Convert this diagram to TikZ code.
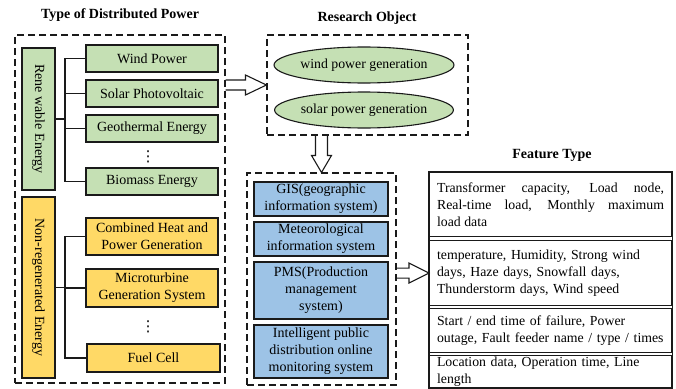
\documentclass[tikz,border=0pt]{standalone}
\usepackage{fontspec}
\usepackage{graphicx}
\setmainfont{Liberation Serif}
\newfontfamily\dvsans{DejaVu Sans}
\usetikzlibrary{shapes.geometric,calc}
\definecolor{gfill}{HTML}{C5E0B4}
\definecolor{yfill}{HTML}{FFD966}
\definecolor{bfill}{HTML}{9DC3E6}
\definecolor{lc}{HTML}{1A1A1A}
\begin{document}
\begin{tikzpicture}[x=1pt,y=-1pt,
  every node/.style={font=\fontsize{14}{17}\selectfont, inner sep=0pt},
  ttl/.style={font=\fontsize{14}{17}\selectfont\bfseries},
  vdotsnode/.style={font=\fontsize{15}{17}\dvsans},
  dbox/.style={draw=lc, line width=1.1pt, dash pattern=on 7pt off 4pt},
  solidbox/.style={draw=lc, line width=1.1pt, align=center},
  gbox/.style={solidbox, fill=gfill, minimum width=132pt, minimum height=27pt},
  ybox/.style={solidbox, fill=yfill, minimum width=132pt},
  vbox/.style={solidbox, minimum width=33pt},
  bbox/.style={solidbox, fill=bfill, minimum width=134pt},
  ell/.style={ellipse, draw=lc, line width=1.1pt, fill=gfill, minimum width=178pt, minimum height=36pt, font=\fontsize{13.8}{16}\selectfont},
  fbox/.style={draw=lc, line width=1.1pt, minimum width=242pt, text width=227pt, inner xsep=7.5pt, anchor=north west, font=\fontsize{13.8}{16.8}\selectfont},
  conn/.style={draw=lc, line width=1.1pt},
  barrow/.style={draw=lc, line width=1.1pt, line join=miter}
]
\useasboundingbox (0,0) rectangle (676,388);

% ---------- Type of Distributed Power ----------
\node[ttl] (t1) at (120,15) {Type of Distributed Power};
\node[dbox, minimum width=210pt, minimum height=348pt] (dist) at (120,209) {};

\node[vbox, fill=gfill, minimum height=142pt] (ren) at (38.5,119) {\rotatebox{-90}{Rene wable Energy}};
\node[gbox] (wind) at (152,58.5) {Wind Power};
\node[gbox] (solar) at (152,93.5) {Solar Photovoltaic};
\node[gbox] (geo) at (152,128.5) {Geothermal Energy};
\node[vdotsnode] (dots1) at (148,157) {⋮};
\node[gbox] (bio) at (152,181.5) {Biomass Energy};

\coordinate (b1) at (65,0);
\draw[conn] (ren.east) -- (ren.east -| b1);
\draw[conn] (wind.west) -- (wind.west -| b1) |- (bio.west);
\draw[conn] (solar.west) -- (solar.west -| b1);
\draw[conn] (geo.west) -- (geo.west -| b1);

\node[vbox, fill=yfill, minimum height=181pt] (nonren) at (38.5,287.5) {\rotatebox{-90}{Non-regenerated Energy}};
\node[ybox, minimum height=37pt] (chp) at (152,236.5) {Combined Heat and\\Power Generation};
\node[ybox, minimum height=38pt] (micro) at (152,288) {Microturbine\\Generation System};
\node[vdotsnode] (dots2) at (148,327) {⋮};
\node[ybox, minimum height=28pt, minimum width=133pt] (fuel) at (153.5,358) {Fuel Cell};

\coordinate (b2) at (65,0);
\draw[conn] (nonren.east) -- (nonren.east -| b2);
\draw[conn] (chp.west) -- (chp.west -| b2) |- (fuel.west);
\draw[conn] (micro.west) -- (micro.west -| b2);

% ---------- Research Object ----------
\node[ttl] (t2) at (367,18) {Research Object};
\node[dbox, minimum width=201pt, minimum height=100pt] (res) at (367.5,85) {};
\node[ell] (ewind) at (364,65) {wind power generation};
\node[ell] (esolar) at (364,110) {solar power generation};

% ---------- Data sources ----------
\node[dbox, minimum width=149pt, minimum height=212pt] (mid) at (321.5,279) {};
\node[bbox, minimum height=34pt] (gis) at (321,199) {GIS(geographic\\information system)};
\node[bbox, minimum height=34pt] (met) at (321,239) {Meteorological\\information system};
\node[bbox, minimum height=57pt] (pms) at (321,290.5) {PMS(Production\\management\\system)};
\node[bbox, minimum height=53pt] (ipd) at (321,351.5) {Intelligent public\\distribution online\\monitoring system};

% ---------- Feature Type ----------
\node[ttl] (t3) at (552,155) {Feature Type};
\node[fbox, minimum height=64pt, align=justify] (f1) at (429,172) {Transformer capacity, Load node,\linebreak Real-time load, Monthly maximum\linebreak load data};
\node[fbox, minimum height=65pt, align=left] (f2) at (429,240) {temperature, Humidity, Strong wind\\days, Haze days, Snowfall days,\\Thunderstorm days, Wind speed};
\node[fbox, minimum height=44pt, align=left] (f3) at (429,308) {Start / end time of failure, Power\\\mbox{outage, Fault feeder name / type / times}};
\node[fbox, minimum height=32pt, align=left] (f4) at (429,355) {Location data, Operation time, Line\\length};
\draw[conn] (f1.north west) rectangle (f4.south east);

% ---------- Block arrows ----------
\coordinate (a1s) at (dist.east |- res.west);
\draw[barrow] let \p1=(a1s), \p2=(res.west) in
  (\x1,\y1+5pt) -- (\x2-21pt,\y1+5pt) -- (\x2-21pt,\y1+10pt) -- (\x2,\y1)
  -- (\x2-21pt,\y1-10pt) -- (\x2-21pt,\y1-5pt) -- (\x1,\y1-5pt);

\coordinate (a2s) at (res.south -| mid.north);
\draw[barrow] let \p1=(a2s), \p2=(mid.north) in
  (\x1-6pt,\y1) -- (\x1-6pt,\y2+17pt) -- (\x1-10pt,\y2+17pt) -- (\x1,\y2)
  -- (\x1+10pt,\y2+17pt) -- (\x1+6pt,\y2+17pt) -- (\x1+6pt,\y1);

\coordinate (a3s) at (mid.east |- f2.west);
\draw[barrow] let \p1=(a3s), \p2=(f2.west) in
  (\x1,\y1+5pt) -- (\x2-20pt,\y1+5pt) -- (\x2-20pt,\y1+10pt) -- (\x2,\y1)
  -- (\x2-20pt,\y1-10pt) -- (\x2-20pt,\y1-5pt) -- (\x1,\y1-5pt);
\end{tikzpicture}
\end{document}
